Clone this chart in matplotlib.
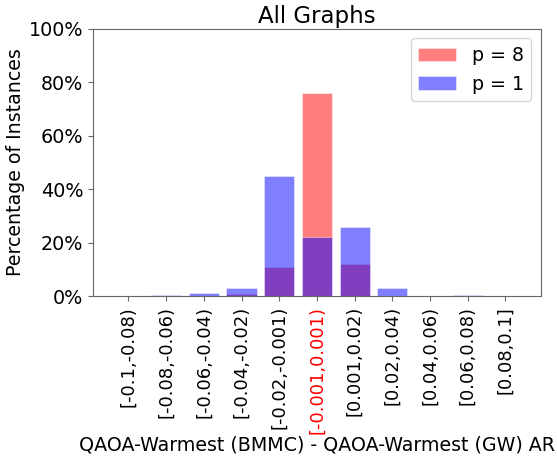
import matplotlib
matplotlib.use("Agg")
import matplotlib.pyplot as plt
from matplotlib.ticker import PercentFormatter

# bins of the AR difference
bin_labels = [
    "[-0.1,-0.08)", "[-0.08,-0.06)", "[-0.06,-0.04)", "[-0.04,-0.02)",
    "[-0.02,-0.001)", "[-0.001,0.001)", "[0.001,0.02)", "[0.02,0.04)",
    "[0.04,0.06)", "[0.06,0.08)", "[0.08,0.1]",
]
# percentage of instances per bin
pct_p8 = [0.0, 0.0, 0.0, 0.7, 10.7, 76.1, 12.0, 0.0, 0.2, 0.0, 0.0]
pct_p1 = [0.0, 0.3, 1.1, 3.2, 45.0, 22.0, 26.0, 3.0, 0.2, 0.3, 0.0]
highlight_idx = 5

plt.rcParams.update({"font.size": 13.7, "xtick.labelsize": 13, "ytick.labelsize": 13.8})

fig = plt.figure(figsize=(5.57, 4.67), dpi=100)
ax = fig.add_axes([0.167, 0.366, 0.804, 0.572])

x = list(range(len(bin_labels)))
ax.bar(x, pct_p8, color="red", alpha=0.5, edgecolor="white", linewidth=0.6, label="p = 8")
ax.bar(x, pct_p1, color="blue", alpha=0.5, edgecolor="white", linewidth=0.6, label="p = 1")

ax.set_ylim(0, 100)
ax.yaxis.set_major_formatter(PercentFormatter(decimals=0))
ax.set_xticks(x)
ax.set_xticklabels(bin_labels, rotation=90)
ax.get_xticklabels()[highlight_idx].set_color("red")

ax.set_ylabel("Percentage of Instances", labelpad=3)
ax.set_xlabel("QAOA-Warmest (BMMC) - QAOA-Warmest (GW) AR", labelpad=1)
ax.set_title("All Graphs", pad=4)
ax.legend(loc="upper right")

for s in ax.spines.values():
    s.set_color("#666666")
ax.tick_params(color="#666666")

fig.savefig("out.png", dpi=100)
